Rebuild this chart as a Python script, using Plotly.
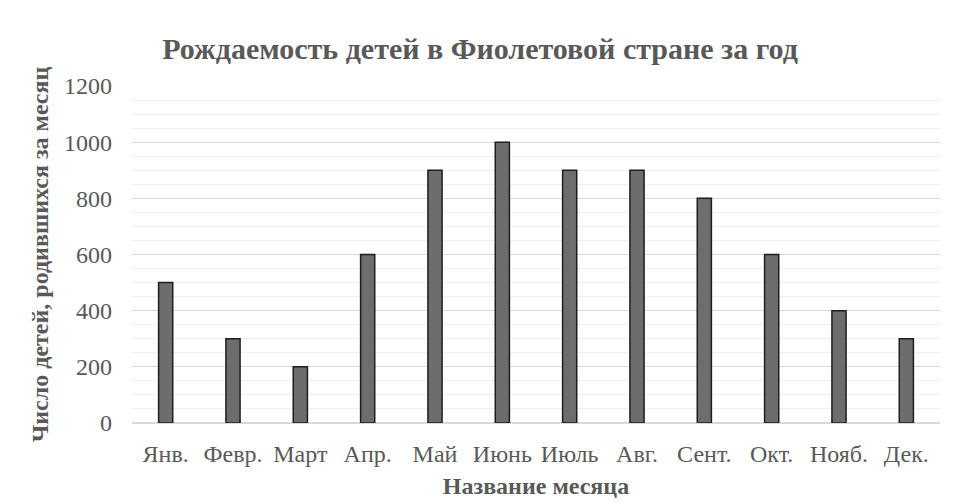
import plotly.graph_objects as go

months = ['Янв.', 'Февр.', 'Март', 'Апр.', 'Май', 'Июнь', 'Июль', 'Авг.', 'Сент.', 'Окт.', 'Нояб.', 'Дек.']
births = [500, 300, 200, 600, 900, 1000, 900, 900, 800, 600, 400, 300]

serif = 'Liberation Serif, Times New Roman, serif'

fig = go.Figure()
fig.add_trace(go.Bar(
    x=months, y=births,
    width=0.21,
    marker=dict(color='#6d6d6d', line=dict(color='#1e1e1e', width=1.5)),
    showlegend=False
))

# page body has an 8px margin, so the figure is shifted by 8px
fig.update_layout(
    width=944, height=495,
    margin=dict(l=124, r=12, t=78, b=80),
    paper_bgcolor='white',
    plot_bgcolor='white',
    title=dict(text='<b>Рождаемость детей в Фиолетовой стране за год</b>',
               x=0.5, xanchor='center', y=1 - 40 / 495, yanchor='middle',
               font=dict(family=serif, size=30, color='#595959')),
    font=dict(family=serif, color='#595959'),
    xaxis=dict(
        title=dict(text='<b>Название месяца</b>', font=dict(size=24, color='#595959'), standoff=11),
        tickfont=dict(size=24, color='#595959'),
        showgrid=False, zeroline=False, showline=False, ticks='',
        ticklabelstandoff=14, automargin=False
    ),
    yaxis=dict(
        title=dict(text='<b>Число детей, родившихся за месяц</b>', font=dict(size=24, color='#595959'), standoff=8),
        range=[0, 1200], dtick=200,
        tickfont=dict(size=24, color='#595959'),
        showgrid=True, gridcolor='#d9d9d9', gridwidth=1,
        zeroline=True, zerolinecolor='#d9d9d9',
        minor=dict(dtick=50, showgrid=True, gridcolor='#f0f0f0', gridwidth=1),
        ticks='', ticklabelstandoff=19
    )
)

fig.write_html("out.html")
